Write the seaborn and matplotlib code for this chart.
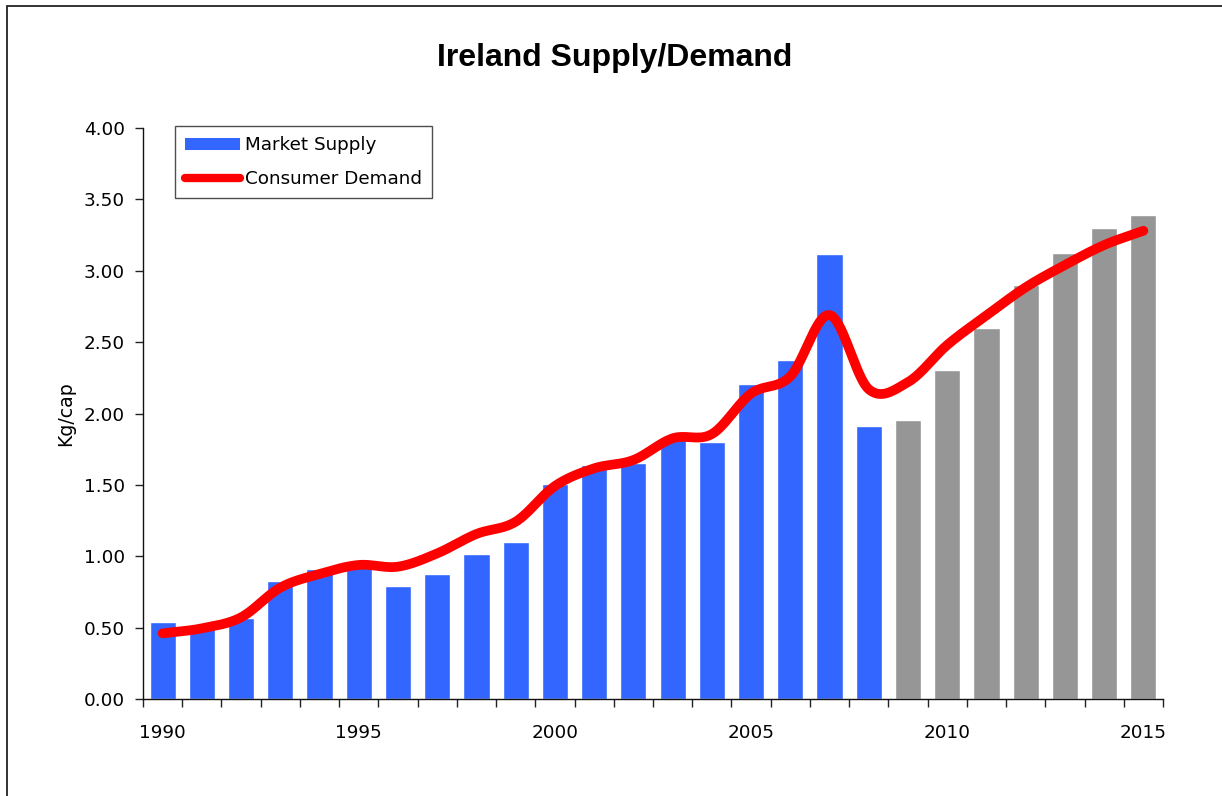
import numpy as np
import pandas as pd
import matplotlib
matplotlib.use("Agg")
import matplotlib.pyplot as plt
from matplotlib.patches import Patch, Rectangle
from matplotlib.lines import Line2D
import seaborn as sns

# data
years = list(range(1990, 2016))
supply = [0.54, 0.51, 0.57, 0.83, 0.91, 0.93, 0.79, 0.876, 1.016, 1.10,
          1.506, 1.64, 1.653, 1.83, 1.80, 2.21, 2.374, 3.117, 1.913,
          1.954, 2.304, 2.598, 2.90, 3.124, 3.30, 3.389]
demand = [0.46, 0.495, 0.572, 0.78, 0.876, 0.939, 0.927, 1.02, 1.156, 1.242,
          1.492, 1.616, 1.674, 1.826, 1.856, 2.14, 2.26, 2.69, 2.17,
          2.22, 2.48, 2.687, 2.884, 3.04, 3.18, 3.28]
last_actual = 2008
year_ticks = [1990, 1995, 2000, 2005, 2010, 2015]

BLUE = "#3366FF"
GREY = "#969696"
RED = "#FF0000"
FS = 13.2


# smooth line like the spreadsheet "smoothed line" option (Catmull-Rom)
def smooth(y, steps=20):
    y = np.asarray(y, dtype=float)
    n = len(y)
    m = np.empty(n)
    m[1:-1] = (y[2:] - y[:-2]) / 2
    m[0] = y[1] - y[0]
    m[-1] = y[-1] - y[-2]
    xs, ys = [], []
    for i in range(n - 1):
        t = np.linspace(0, 1, steps, endpoint=(i == n - 2))
        h00 = 2 * t**3 - 3 * t**2 + 1
        h10 = t**3 - 2 * t**2 + t
        h01 = -2 * t**3 + 3 * t**2
        h11 = t**3 - t**2
        xs.append(i + t)
        ys.append(h00 * y[i] + h10 * m[i] + h01 * y[i + 1] + h11 * m[i + 1])
    return np.concatenate(xs), np.concatenate(ys)


df = pd.DataFrame({
    "Year": [str(y) for y in years],
    "Supply": supply,
    "Period": ["actual" if y <= last_actual else "forecast" for y in years],
})
sx, sy = smooth(demand)
df_line = pd.DataFrame({"pos": sx, "Demand": sy})

sns.set_style("white")
plt.rcParams["font.family"] = ["DejaVu Sans"]
plt.rcParams["text.color"] = "black"
plt.rcParams["axes.labelcolor"] = "black"

fig = plt.figure(figsize=(12.22, 7.96), dpi=100)
ax = fig.add_axes([143 / 1222, 1 - 699 / 796, 1020 / 1222, 571 / 796])

sns.barplot(data=df, x="Year", y="Supply", hue="Period",
            palette={"actual": BLUE, "forecast": GREY},
            dodge=False, width=0.665, saturation=1, legend=False, ax=ax)
sns.lineplot(data=df_line, x="pos", y="Demand", sort=False, color=RED,
             linewidth=7, solid_capstyle="round", ax=ax)

ax.set_xlim(-0.5, len(years) - 0.5)
ax.set_ylim(0, 4)
ax.set_yticks(np.arange(0, 4.01, 0.5))
ax.set_yticklabels([f"{v:.2f}" for v in np.arange(0, 4.01, 0.5)])
ax.set_xticks([years.index(y) for y in year_ticks])
ax.set_xticklabels([str(y) for y in year_ticks])
ax.set_xticks(np.arange(-0.5, len(years)), minor=True)
ax.tick_params(axis="x", which="major", bottom=True, length=0, pad=18,
               labelsize=FS, labelcolor="black")
ax.tick_params(axis="x", which="minor", bottom=True, length=6, width=1,
               color="#222222", direction="out")
ax.tick_params(axis="y", left=True, length=6, width=1, color="#222222",
               direction="out", pad=7, labelsize=FS, labelcolor="black")
ax.set_xlabel("")
ax.set_ylabel("Kg/cap", fontsize=13.6)
ax.yaxis.set_label_coords(-0.067, 0.5)

sns.despine(ax=ax)
for s in ["left", "bottom"]:
    ax.spines[s].set_color("#111111")
    ax.spines[s].set_linewidth(1)

handles = [Patch(facecolor=BLUE, edgecolor="none"),
           Line2D([0], [0], color=RED, linewidth=6, solid_capstyle="round")]
leg = ax.legend(handles, ["Market Supply", "Consumer Demand"],
                loc="upper left", bbox_to_anchor=(0.031, 1.003),
                fontsize=FS, frameon=True, fancybox=False,
                handlelength=3.0, handletextpad=0.3, borderpad=0.55,
                labelspacing=0.85, borderaxespad=0)
leg.get_frame().set_edgecolor("#222222")
leg.get_frame().set_linewidth(1)

fig.text(615 / 1222, 1 - 58 / 796, "Ireland Supply/Demand",
         family="Liberation Sans", fontsize=23, fontweight="bold",
         color="black", ha="center", va="center")

# outer chart border (only left and top edges fall inside the picture)
fig.patches.append(Rectangle((7 / 1222, -0.05), 1.2, 1.05 - 6 / 796,
                             transform=fig.transFigure, fill=False,
                             edgecolor="#222222", linewidth=1.3))

fig.savefig("out.png", dpi=100)
